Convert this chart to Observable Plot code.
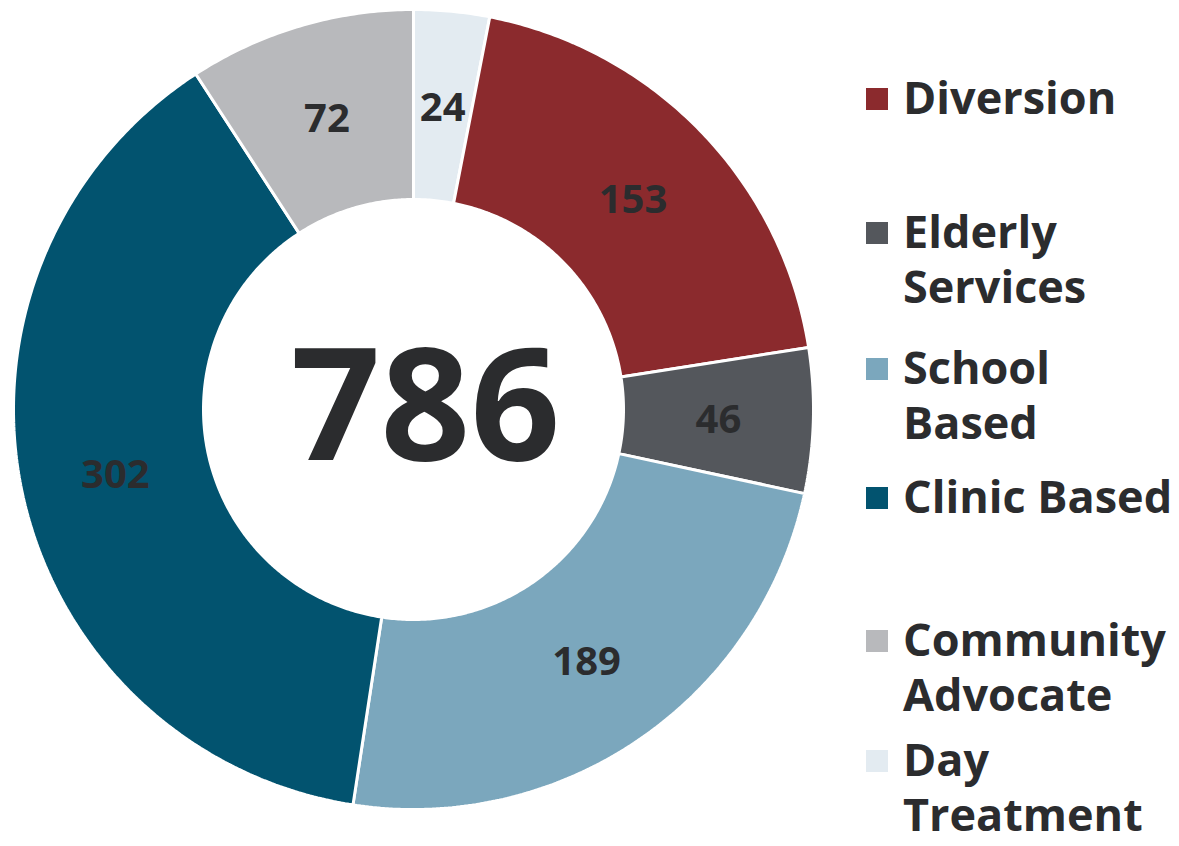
<!DOCTYPE html>
<html>
<head>
<meta charset="utf-8">
<script src="https://cdn.jsdelivr.net/npm/d3@7"></script>
<script src="https://cdn.jsdelivr.net/npm/@observablehq/plot@0.6"></script>
<style>
  html, body { margin: 0; padding: 0; background: #fff; }
  body { width: 1179px; height: 846px; position: relative; overflow: hidden;
         font-family: "Open Sans", sans-serif; }
  #chart { position: absolute; left: 0; top: 0; }
  #legend { position: absolute; left: 0; top: 0; width: 1179px; height: 846px; pointer-events: none; }
  .sw { position: absolute; left: 866px; width: 22px; height: 22px; }
  .line { position: absolute; left: 903px; font-weight: 700; font-size: 45px; line-height: 46px; height: 46px;
          color: #2b2c2e; white-space: nowrap; }
</style>
</head>
<body>
<div id="chart"></div>
<div id="legend"></div>
<script>
// ---- data ----
const categories = ["Day Treatment", "Diversion", "Elderly Services", "School Based", "Clinic Based", "Community Advocate"];
const values = [24, 153, 46, 189, 302, 72];
const colors = ["#e3ebf1", "#8b2a2d", "#54575c", "#7ba7bd", "#02536f", "#b8b9bc"];
const legendOrder = ["Diversion", "Elderly Services", "School Based", "Clinic Based", "Community Advocate", "Day Treatment"];
const legendLabels = [["Diversion"], ["Elderly", "Services"], ["School", "Based"], ["Clinic Based"], ["Community", "Advocate"], ["Day", "Treatment"]];

// ---- layout ----
const legendBaselines = [113, 247, 383, 512, 655, 775];
const legendLineGap = 55;
const innerFrac = 0.525;
const labelFrac = 0.7625;

const total = d3.sum(values);
const pie = d3.pie().sort(null).value(d => d.value);
const arcs = pie(categories.map((name, i) => ({name, value: values[i]})));

// Polygon points for each slice (unit coordinates, angle clockwise from top)
const pts = [];
for (const a of arcs) {
  const n = Math.max(8, Math.ceil((a.endAngle - a.startAngle) / 0.01));
  const ring = [];
  for (let k = 0; k <= n; k++) {
    const t = a.startAngle + (a.endAngle - a.startAngle) * k / n;
    ring.push({name: a.data.name, x: Math.sin(t), y: Math.cos(t)});
  }
  for (let k = n; k >= 0; k--) {
    const t = a.startAngle + (a.endAngle - a.startAngle) * k / n;
    ring.push({name: a.data.name, x: innerFrac * Math.sin(t), y: innerFrac * Math.cos(t)});
  }
  ring.push({...ring[0]});
  pts.push(...ring);
}
const labels = arcs.map(a => {
  const m = (a.startAngle + a.endAngle) / 2;
  return {name: a.data.name, value: a.data.value, x: labelFrac * Math.sin(m), y: labelFrac * Math.cos(m)};
});

const chart = Plot.plot({
  width: 830,
  height: 846,
  marginLeft: 13,
  marginRight: 17,
  marginTop: 9,
  marginBottom: 37,
  x: {domain: [-1, 1], axis: null},
  y: {domain: [-1, 1], axis: null},
  color: {domain: categories, range: colors},
  style: {fontFamily: "Open Sans, sans-serif", background: "white"},
  marks: [
    Plot.line(pts, {x: "x", y: "y", z: "name", fill: "name", stroke: "white", strokeWidth: 3, curve: "linear", strokeLinejoin: "miter"}),
    Plot.text(labels, {x: "x", y: "y", text: d => String(d.value), fill: "#2b2c2e", fontSize: 40, fontWeight: 700, dy: 2}),
    Plot.text([total], {x: () => 0, y: () => 0, text: d => String(d), fill: "#2b2c2e", fontSize: 157, fontWeight: 700, dx: 12, dy: 0})
  ]
});
document.getElementById("chart").appendChild(chart);

// ---- legend ----
const legend = document.getElementById("legend");
legendOrder.forEach((name, i) => {
  const base = legendBaselines[i];
  const sw = document.createElement("div");
  sw.className = "sw";
  sw.style.background = colors[categories.indexOf(name)];
  sw.style.top = (base - 25) + "px";
  legend.appendChild(sw);
  legendLabels[i].forEach((txt, j) => {
    const ln = document.createElement("div");
    ln.className = "line";
    ln.textContent = txt;
    ln.style.top = (base + j * legendLineGap - 39) + "px";
    legend.appendChild(ln);
  });
});
</script>
</body>
</html>
